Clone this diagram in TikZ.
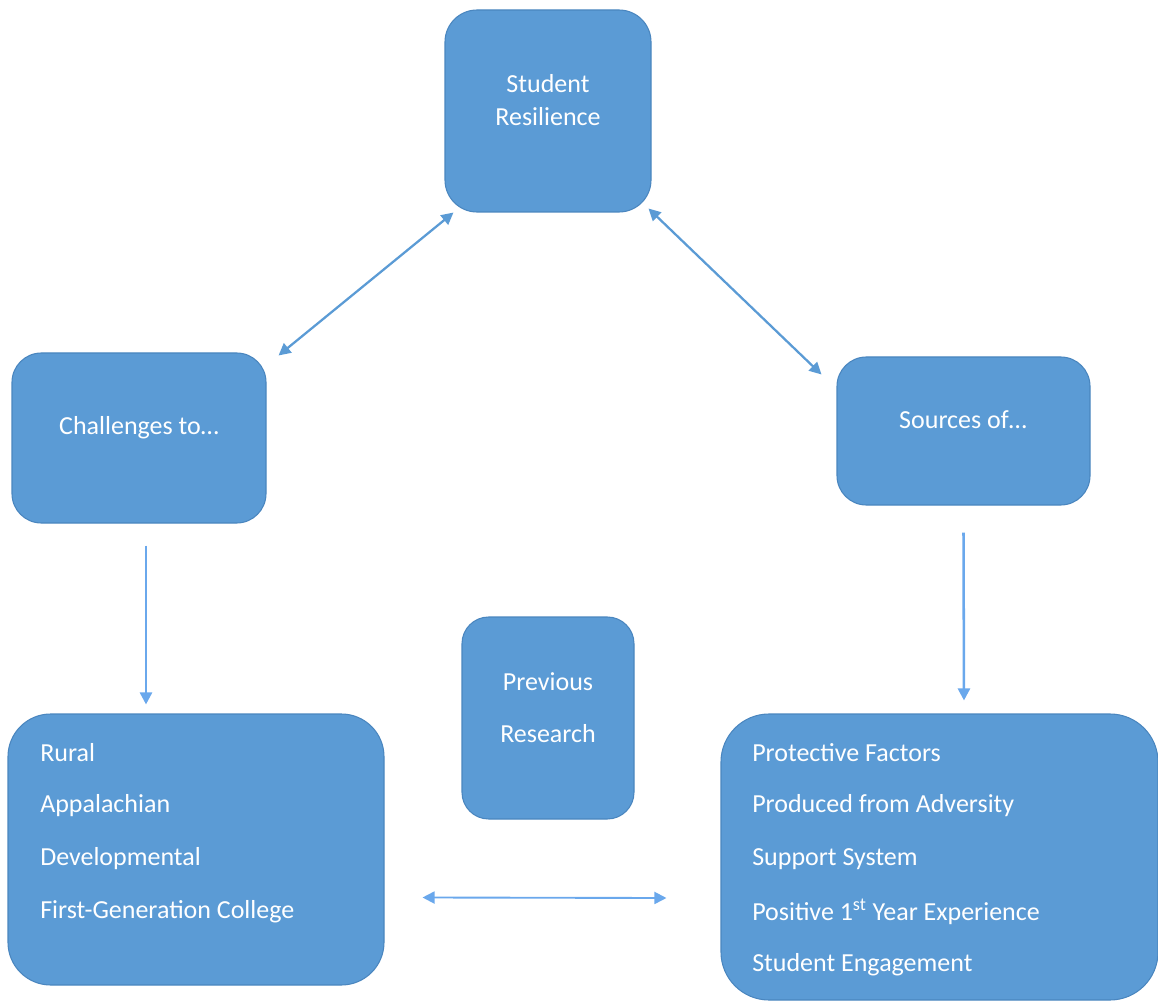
\documentclass[tikz,border=0pt]{standalone}
\usepackage{fontspec}
\setmainfont{Carlito}
\usetikzlibrary{arrows.meta,calc}
\definecolor{boxfill}{HTML}{5B9BD5}
\definecolor{boxline}{HTML}{4A86BF}
\definecolor{arrowc}{HTML}{5B9BD5}
\definecolor{arrowl}{HTML}{6AA8EC}
\tikzset{
  bx/.style={draw=boxline, line width=0.8pt, fill=boxfill, rounded corners=#1, inner sep=0pt},
  bx/.default=24pt,
  lbl/.style={text=white, font=\fontsize{19.5}{23}\selectfont, inner sep=0pt},
  conn/.style={draw=arrowl, line width=1.9pt, -{Triangle[length=9pt,width=9pt]}},
  dconn/.style={draw=arrowc, line width=1.7pt, {Triangle[length=9pt,width=9pt]}-{Triangle[length=9pt,width=9pt]}},
}
\begin{document}
\begin{tikzpicture}[x=0.75pt,y=-0.75pt]
\useasboundingbox (0,0) rectangle (1158,1002);
% boxes
\node[bx, minimum width=206*0.75pt, minimum height=202*0.75pt] (sr) at (548,111) {};
\node[bx=22pt, minimum width=254*0.75pt, minimum height=170*0.75pt] (ch) at (139,438) {};
\node[bx=22pt, minimum width=253*0.75pt, minimum height=148*0.75pt] (so) at (963.5,431) {};
\node[bx=20pt, minimum width=172*0.75pt, minimum height=202*0.75pt] (pr) at (548,718) {};
\node[bx=32pt, minimum width=376*0.75pt, minimum height=271*0.75pt] (lb) at (196,849.5) {};
\node[bx=36pt, minimum width=437*0.75pt, minimum height=286*0.75pt] (rb) at (939.5,857) {};
% texts
\node[lbl] (t1) at (548,84) {Student};
\node[lbl] (t2) at (548,117) {Resilience};
\node[lbl] (t3) at (139,428) {Challenges to…};
\node[lbl] (t4) at (963,420) {Sources of…};
\node[lbl] (t5) at (548,682) {Previous};
\node[lbl] (t6) at (548,734) {Research};
\node[lbl, anchor=west] (l1) at (40,753) {Rural};
\node[lbl, anchor=west] (l2) at (40,806) {Appalachian};
\node[lbl, anchor=west] (l3) at (40,859) {Developmental};
\node[lbl, anchor=west] (l4) at (40,912) {First-Generation College};
\node[lbl, anchor=west] (r1) at (752,753) {Protective Factors};
\node[lbl, anchor=west] (r2) at (752,806) {Produced from Adversity};
\node[lbl, anchor=west] (r3) at (752,859) {Support System};
\node[lbl, anchor=west] (r4) at (752,912) {Positive 1\textsuperscript{st} Year Experience};
\node[lbl, anchor=west] (r5) at (752,965) {Student Engagement};
% connectors
\draw[dconn] ($(sr.south west)+(9,0)$) -- ($(ch.north east)+(12,3)$);
\draw[dconn] ($(sr.south east)+(-3,-4)$) -- ($(so.north west)+(-15,18)$);
\draw[conn] ($(ch.south)+(7,22)$) -- ($(lb.north)+(-50,-9)$);
\draw[conn] ($(so.south)+(0,27)$) -- ($(rb.north)+(24.5,-13)$);
\draw[conn, line width=1.4pt, {Triangle[length=9pt,width=9pt]}-{Triangle[length=9pt,width=9pt]}] ($(lb.east)+(38,48)$) -- ($(rb.west)+(-54,41)$);
\end{tikzpicture}
\end{document}
